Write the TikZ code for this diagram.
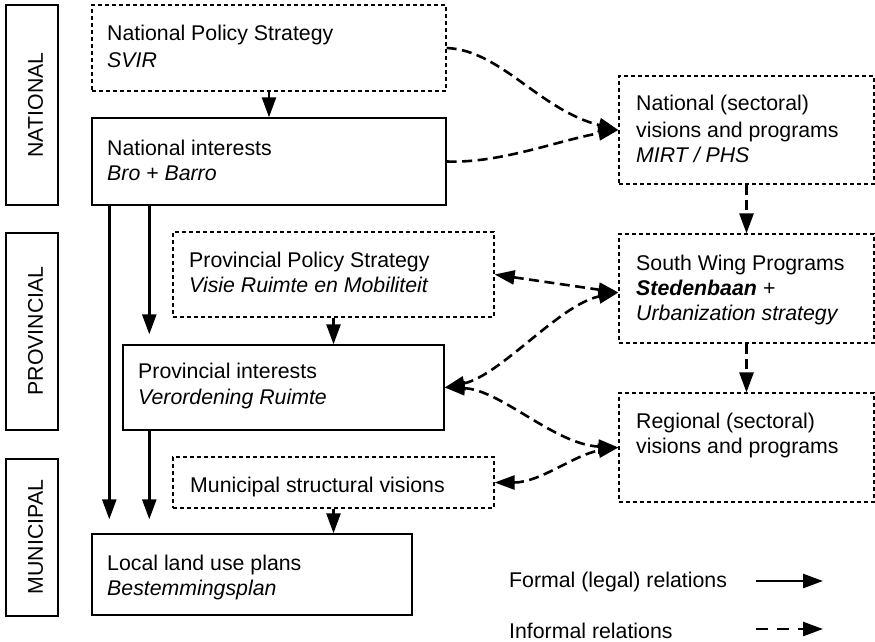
\documentclass[tikz,border=0pt]{standalone}
\usepackage{fontspec}
\setmainfont{Liberation Sans}
\usetikzlibrary{arrows.meta,fit,calc}

\begin{document}
\begin{tikzpicture}[x=1pt,y=-1pt,
  font=\fontsize{21.3}{25}\selectfont,
  box/.style={draw, line width=1.4pt, rectangle, inner sep=0pt},
  dbox/.style={box, line width=1.2pt, dash pattern=on 4pt off 3pt},
  txt/.style={anchor=base west, inner sep=0pt},
  tip/.tip={Triangle[length=20pt,width=14pt]},
  formal/.style={line width=2.5pt, -tip},
  informal/.style={line width=2.6pt, dash pattern=on 10pt off 5.5pt, -tip},
  both/.style={informal, tip-tip}
]
\useasboundingbox (0,0) rectangle (875,641);

% level labels
\node[box, fit={(6,5)(58,205)}] (labN) {};
\node[rotate=90, inner sep=0pt] (tN) at (35.5,105) {NATIONAL};
\node[box, fit={(6,233)(58,430)}] (labP) {};
\node[rotate=90, inner sep=0pt] (tP) at (35.5,331) {PROVINCIAL};
\node[box, fit={(6,459)(58,616)}] (labM) {};
\node[rotate=90, inner sep=0pt] (tM) at (35.5,537) {MUNICIPAL};

% national level
\node[dbox, fit={(92,5)(446,91)}] (svir) {};
\node[txt] (svir1) at (107,40) {National Policy Strategy};
\node[txt] (svir2) at (107,67) {\itshape SVIR};

\node[box, fit={(92,118)(446,205)}] (natint) {};
\node[txt] (natint1) at (107,155) {National interests};
\node[txt] (natint2) at (107,180) {\itshape Bro + Barro};

% provincial level
\node[dbox, fit={(173,232)(494,317)}] (ppol) {};
\node[txt] (ppol1) at (189,267) {Provincial Policy Strategy};
\node[txt] (ppol2) at (189,292) {\itshape Visie Ruimte en Mobiliteit};

\node[box, fit={(123,345)(444,430)}] (pint) {};
\node[txt] (pint1) at (138,378) {Provincial interests};
\node[txt] (pint2) at (138,404) {\itshape Verordening Ruimte};

% municipal level
\node[dbox, fit={(173,457)(494,508)}] (muni) {};
\node[txt] (muni1) at (190,492) {Municipal structural visions};

\node[box, fit={(92,534)(412,615)}] (local) {};
\node[txt] (local1) at (107,570) {Local land use plans};
\node[txt] (local2) at (107,595) {\itshape Bestemmingsplan};

% sectoral programmes
\node[dbox, fit={(619,76)(874,184)}] (natsec) {};
\node[txt] (natsec1) at (636,110) {National (sectoral)};
\node[txt] (natsec2) at (636,137) {visions and programs};
\node[txt] (natsec3) at (636,162) {\itshape MIRT / PHS};

\node[dbox, fit={(619,234)(874,343)}] (sw) {};
\node[txt] (sw1) at (636,270) {South Wing Programs};
\node[txt] (sw2) at (636,295) {\bfseries\itshape Stedenbaan\mdseries{} +};
\node[txt] (sw3) at (636,320) {\itshape Urbanization strategy};

\node[dbox, fit={(619,393)(874,502)}] (reg) {};
\node[txt] (reg1) at (636,428) {Regional (sectoral)};
\node[txt] (reg2) at (636,453) {visions and programs};

% formal relations
\draw[formal] (svir.south) -- (natint.north);
\draw[formal, shorten >=14pt] ([xshift=18pt]natint.south west) -- ([xshift=18pt]natint.south west |- local.north);
\draw[formal, shorten >=10pt] ([xshift=58pt]natint.south west) -- ([xshift=58pt]natint.south west |- pint.north);
\draw[formal, shorten >=14pt] ([xshift=27pt]pint.south west) -- ([xshift=27pt]pint.south west |- local.north);
\draw[formal] (ppol.south) -- (ppol.south |- pint.north);
\draw[formal] (muni.south) -- (muni.south |- local.north);

% informal relations
\draw[informal] (natsec.south) -- (sw.north);
\draw[informal] (sw.south) -- (reg.north);
\draw[informal] (svir.east) .. controls +(54,2) and +(-79,-20) .. (natsec.west);
\draw[informal] (natint.east) .. controls +(54,2) and +(-59,10) .. (natsec.west);
\draw[both] (ppol.east) -- ([yshift=-4pt]sw.west);
\draw[both] (pint.east) .. controls +(56,-12) and +(-59,12) .. ([yshift=-4pt]sw.west);
\draw[both] (pint.east) .. controls +(56,2) and +(-64,-3) .. (reg.west);
\draw[both] (muni.east) .. controls +(46,0) and +(-44,7) .. (reg.west);

% legend
\node[txt] (legF) at (509,587) {Formal (legal) relations};
\coordinate (legFa) at (756,581);
\coordinate (legFb) at (823,581);
\draw[formal] (legFa) -- (legFb);
\node[txt] (legI) at (509,638) {Informal relations};
\coordinate (legIa) at (756,629);
\coordinate (legIb) at (823,629);
\draw[formal, dash pattern=on 12pt off 9pt] (legIa) -- (legIb);
\end{tikzpicture}
\end{document}
